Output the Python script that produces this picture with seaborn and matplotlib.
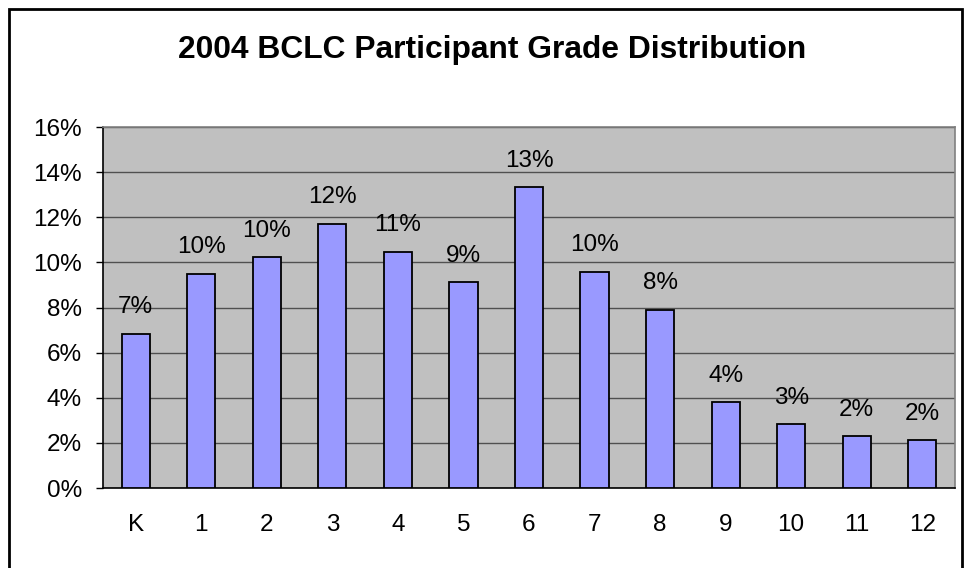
import matplotlib
matplotlib.use("Agg")
import matplotlib.pyplot as plt
import seaborn as sns
import pandas as pd
from matplotlib.patches import Rectangle
from matplotlib.ticker import FuncFormatter, FixedLocator

# ---- data ----
grades = ["K", "1", "2", "3", "4", "5", "6", "7", "8", "9", "10", "11", "12"]
share = [6.84, 9.50, 10.22, 11.72, 10.48, 9.14, 13.32, 9.59, 7.90, 3.82, 2.83, 2.31, 2.12]
labels = ["7%", "10%", "10%", "12%", "11%", "9%", "13%", "10%", "8%", "4%", "3%", "2%", "2%"]
yticks = [0, 2, 4, 6, 8, 10, 12, 14, 16]

df = pd.DataFrame({"grade": grades, "share": share})

sns.set_style("white")
plt.rcParams["font.family"] = ["Liberation Sans", "DejaVu Sans"]
plt.rcParams["text.color"] = "black"
plt.rcParams["xtick.color"] = "black"
plt.rcParams["ytick.color"] = "black"

FS = 17.5

fig = plt.figure(figsize=(9.64, 5.68), dpi=100)
ax = fig.add_axes([0.1068, 0.1408, 0.8839, 0.6356])
ax.set_facecolor("#C0C0C0")

sns.barplot(data=df, x="grade", y="share", order=grades, color="#9999FF", saturation=1,
            edgecolor="black", linewidth=1.3, width=0.43, ax=ax, zorder=3)

ax.set_xlim(-0.5, 12.5)
ax.set_ylim(0, 16)
ax.yaxis.set_major_locator(FixedLocator(yticks))
ax.yaxis.set_major_formatter(FuncFormatter(lambda v, p: f"{v:.0f}%"))
ax.grid(axis="y", color="#505050", linewidth=1, zorder=0)
ax.set_axisbelow(True)

# value labels above the bars
for i, (v, t) in enumerate(zip(share, labels)):
    ax.annotate(t, (i, v), xytext=(0, 11), textcoords="offset points",
                ha="center", va="bottom", fontsize=FS)

# excel-like spines/ticks
for s in ["top", "right"]:
    ax.spines[s].set_color("#808080")
    ax.spines[s].set_linewidth(1.2)
for s in ["left", "bottom"]:
    ax.spines[s].set_color("black")
    ax.spines[s].set_linewidth(1.2)

ax.set_xticks(range(len(grades)))
ax.set_xticklabels(grades)
ax.set_xticks([i - 0.5 for i in range(len(grades) + 1)], minor=True)
ax.tick_params(axis="x", which="major", length=0, pad=18.5, labelsize=FS)
ax.tick_params(axis="x", which="minor", length=5, width=1, color="black", direction="out")
ax.tick_params(axis="y", length=5, width=1, color="black", direction="out", left=True,
               labelsize=FS, pad=10)
ax.set_xlabel("")
ax.set_ylabel("")

fig.text(0.51, 0.898, "2004 BCLC Participant Grade Distribution", ha="center", va="baseline",
         fontsize=22.9, fontweight="bold")

# border round the chart (bottom edge runs off the picture)
fig.patches.append(Rectangle((9 / 964, -0.02), 953 / 964, 1.02 - 9 / 568,
                             transform=fig.transFigure, fill=False,
                             edgecolor="black", linewidth=2))

fig.savefig("out.png", dpi=100)
